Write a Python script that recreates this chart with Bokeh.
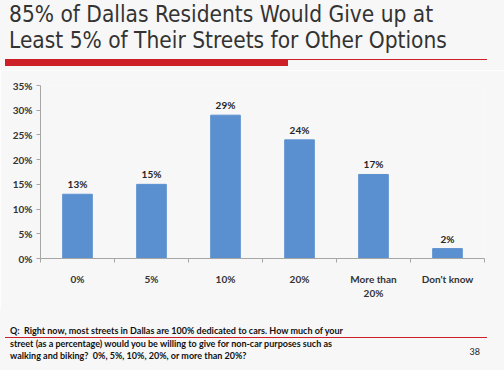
from bokeh.plotting import figure
from bokeh.models import ColumnDataSource, FixedTicker, Range1d, Div
from bokeh.core.properties import value
from bokeh.layouts import column
from bokeh.embed import file_html
from bokeh.resources import INLINE

categories = ["0%", "5%", "10%", "20%", "More than\n20%", "Don't know"]
values = [13, 15, 29, 24, 17, 2]
y_ticks = [0, 5, 10, 15, 20, 25, 30, 35]
y_tick_labels = ["0%", "5%", "10%", "15%", "20%", "25%", "30%", "35%"]
title_lines = ["85% of Dallas Residents Would Give up at",
               "Least 5% of Their Streets for Other Options"]
footer_lines = ["Q:&nbsp; Right now, most streets in Dallas are 100% dedicated to cars. How much of your",
                "street (as a percentage) would you be willing to give for non-car purposes such as",
                "walking and biking?&nbsp; 0%, 5%, 10%, 20%, or more than 20%?"]
page_number = "38"

W = 504
BG = "#f7f7f7"
RED = "#cc1f27"
H_HEAD, H_CHART, H_FOOT = 70, 240, 60


def box(left, top, width, height, color):
    return (f'<div style="position:absolute;left:{left}px;top:{top}px;'
            f'width:{width}px;height:{height}px;background:{color};"></div>')


def text(left, top, t, font, size, color, weight="normal", lh=None, right=None):
    pos = f"right:{right}px;" if right is not None else f"left:{left}px;"
    return (f'<div style="position:absolute;{pos}top:{top}px;white-space:nowrap;'
            f"font-family:'{font}';font-size:{size}px;line-height:{lh or size}px;"
            f'color:{color};font-weight:{weight};">{t}</div>')


# ---------- header ----------
head_html = (f'<div style="position:relative;width:{W}px;height:{H_HEAD}px;'
             f'background:{BG};overflow:hidden;">'
             + text(9, 1, title_lines[0], "DejaVu Sans Condensed", 22.5, "#333333", lh=26)
             + text(9, 27, title_lines[1], "DejaVu Sans Condensed", 22.5, "#333333", lh=26)
             + box(5, 59, 283, 7, RED)
             + box(288, 59, 199, 1.3, RED)
             + '</div>')
head = Div(text=head_html, width=W, height=H_HEAD, margin=0)

# ---------- chart ----------
xs = [i + 0.5 for i in range(len(categories))]
src = ColumnDataSource(dict(x=xs, top=values, lab=[f"{v}%" for v in values]))

p = figure(width=W, height=H_CHART, output_backend="svg", toolbar_location=None,
           x_range=Range1d(0, len(categories)), y_range=Range1d(0, 35),
           min_border_left=40, min_border_right=20, min_border_top=15,
           min_border_bottom=52, background_fill_color=BG, border_fill_color=BG,
           margin=0)
p.outline_line_color = None
p.grid.visible = False

p.vbar(x="x", top="top", width=0.4, source=src, color="#5b90d0")
p.text(x="x", y="top", text="lab", source=src, text_align="center",
       text_baseline="bottom", y_offset=-4, text_font_size="10px",
       text_font_style="bold", text_color="#262626", text_font=value("Lato"))

ya = p.yaxis[0]
ya.ticker = FixedTicker(ticks=y_ticks, minor_ticks=[])
ya.major_label_overrides = {t: l for t, l in zip(y_ticks, y_tick_labels)}
ya.axis_line_color = "#a6a6a6"
ya.major_tick_line_color = "#a6a6a6"
ya.major_tick_out = 4
ya.major_tick_in = 0
ya.major_label_text_font = "Lato"
ya.major_label_text_font_style = "bold"
ya.major_label_text_font_size = "10px"
ya.major_label_text_color = "#333333"
ya.major_label_standoff = 4

xa = p.xaxis[0]
xa.ticker = FixedTicker(ticks=xs, minor_ticks=list(range(len(categories) + 1)))
xa.major_label_overrides = {x: c for x, c in zip(xs, categories)}
xa.axis_line_color = "#a6a6a6"
xa.major_tick_line_color = None
xa.minor_tick_line_color = "#a6a6a6"
xa.minor_tick_out = 4
xa.minor_tick_in = 0
xa.major_label_text_font = "Lato"
xa.major_label_text_font_style = "bold"
xa.major_label_text_font_size = "10px"
xa.major_label_text_color = "#333333"
xa.major_label_standoff = 8

# ---------- footer ----------
foot_html = (f'<div style="position:relative;width:{W}px;height:{H_FOOT}px;'
             f'background:{BG};overflow:hidden;">'
             + text(10, 15, footer_lines[0], "Lato", 9, "#111111", weight="bold", lh=11)
             + box(5, 26.5, 482, 1, RED)
             + text(10, 28, footer_lines[1], "Lato", 9, "#111111", weight="bold", lh=11)
             + text(10, 40, footer_lines[2], "Lato", 9, "#111111", weight="bold", lh=11)
             + text(0, 35.5, page_number, "Lato", 9, "#222222", lh=11, right=24)
             + '</div>')
foot = Div(text=foot_html, width=W, height=H_FOOT, margin=0)

layout = column(head, p, foot, spacing=0)
open("out.html", "w").write(file_html(layout, INLINE))
